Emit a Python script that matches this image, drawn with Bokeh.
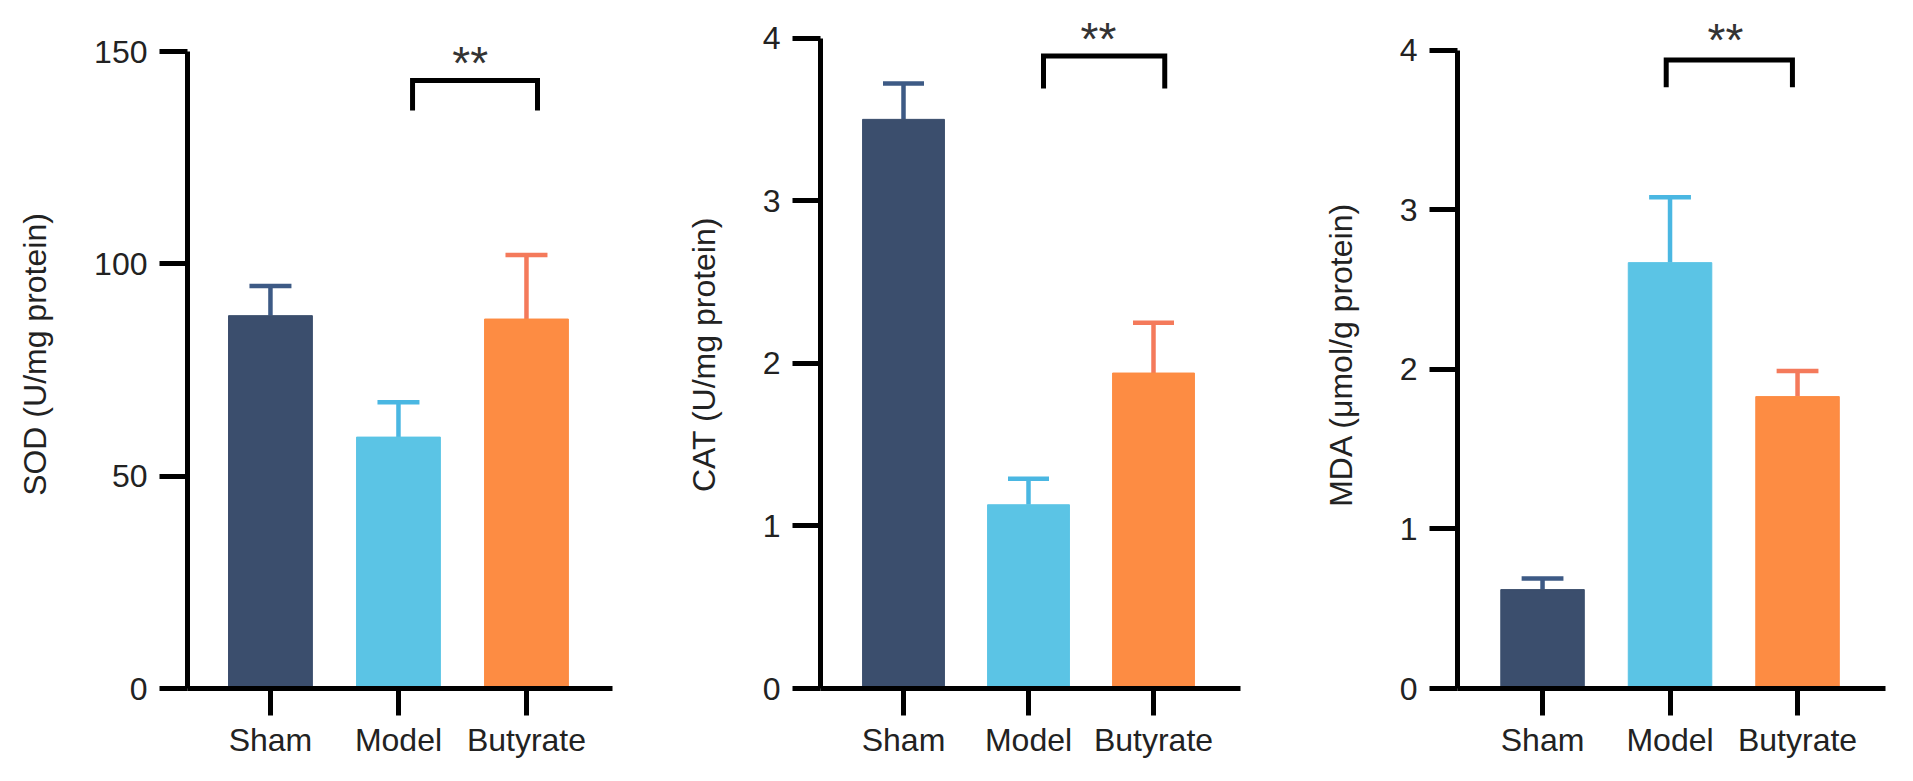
from bokeh.plotting import figure
from bokeh.models import ColumnDataSource, LinearAxis, FixedTicker, Range1d, Label
from bokeh.layouts import row
from bokeh.transform import dodge
from bokeh.embed import file_html
from bokeh.resources import INLINE

groups = ["Sham", "Model", "Butyrate"]
bar_colors = ["#3B4E6D", "#5BC4E5", "#FD8C43"]
err_colors = ["#3D5A85", "#4AB7E2", "#F47A5B"]

# mean and mean + error
sod_mean = [87.8, 59.2, 87.0]
sod_upper = [94.8, 67.4, 102.1]
cat_mean = [3.50, 1.13, 1.94]
cat_upper = [3.72, 1.29, 2.25]
mda_mean = [0.62, 2.67, 1.83]
mda_upper = [0.69, 3.08, 1.99]

sod_ticks = [0, 50, 100, 150]
cat_ticks = [0, 1, 2, 3, 4]
mda_ticks = [0, 1, 2, 3, 4]

# Model vs Butyrate bracket: top, leg end, star level
sod_sig = [143.2, 136.1, 147.4]
cat_sig = [3.89, 3.69, 3.995]
mda_sig = [3.94, 3.77, 4.065]

FONT = "Liberation Sans"
TEXT = "#222222"
H = 780


def make_panel(mean, upper, ticks, label, sig, y_end, xr, width, bl, br, bdx, sdx):
    x = list(range(len(groups)))
    src = ColumnDataSource(dict(x=x, top=mean, upper=upper,
                                color=bar_colors, ecolor=err_colors))
    p = figure(width=width, height=H, title=None, toolbar_location=None,
               output_backend="svg", x_range=Range1d(*xr), y_range=Range1d(0, y_end),
               x_axis_location=None, y_axis_location=None,
               min_border_left=bl, min_border_right=br,
               min_border_top=20, min_border_bottom=H - 688)
    p.outline_line_color = None
    p.grid.visible = False

    # error bars under the bars
    p.segment(x0="x", y0="top", x1="x", y1="upper", line_color="ecolor",
              line_width=4.5, source=src)
    p.segment(x0=dodge("x", -0.164), y0="upper", x1=dodge("x", 0.164), y1="upper",
              line_color="ecolor", line_width=4.5, source=src)
    p.vbar(x="x", top="top", width=0.655, fill_color="color", line_color="color",
           source=src)

    # significance bracket
    m = groups.index("Model")
    b = groups.index("Butyrate")
    p.line(x=[m + bdx[0], m + bdx[0], b + bdx[1], b + bdx[1]],
           y=[sig[1], sig[0], sig[0], sig[1]],
           line_color="black", line_width=5, line_join="miter")
    p.add_layout(Label(x=(m + b) / 2 + sdx, y=sig[2], text="**",
                       text_font=FONT, text_font_size="46px", text_color="#333333",
                       text_align="center", text_baseline="middle"))

    xaxis = LinearAxis(ticker=FixedTicker(ticks=x),
                       major_label_overrides={i: g for i, g in enumerate(groups)})
    xaxis.major_tick_out = 27
    xaxis.major_label_standoff = 6
    yaxis = LinearAxis(ticker=FixedTicker(ticks=ticks), bounds=(0, ticks[-1]),
                       axis_label=label)
    yaxis.major_tick_out = 28
    yaxis.major_label_standoff = 12
    yaxis.axis_label_standoff = 38
    yaxis.axis_label_text_font = FONT
    yaxis.axis_label_text_font_size = "32px"
    yaxis.axis_label_text_font_style = "normal"
    yaxis.axis_label_text_color = TEXT
    for ax in (xaxis, yaxis):
        ax.axis_line_width = 5
        ax.axis_line_color = "black"
        ax.major_tick_line_width = 5
        ax.major_tick_line_color = "black"
        ax.major_tick_in = 0
        ax.minor_tick_line_color = None
        ax.major_label_text_font = FONT
        ax.major_label_text_font_size = "32px"
        ax.major_label_text_color = TEXT
    p.add_layout(xaxis, "below")
    p.add_layout(yaxis, "left")
    return p


p1 = make_panel(sod_mean, sod_upper, sod_ticks, "SOD (U/mg protein)", sod_sig,
                157.3, (-0.648, 2.672), 648, 187, 36, (0.11, 0.086), 0.06)
p2 = make_panel(cat_mean, cat_upper, cat_ticks, "CAT (U/mg protein)", cat_sig,
                4.108, (-0.664, 2.696), 635, 172, 43, (0.12, 0.09), 0.06)
p3 = make_panel(mda_mean, mda_upper, mda_ticks, "MDA (\u03bcmol/g protein)", mda_sig,
                4.188, (-0.667, 2.69), 628, 174, 26, (-0.03, -0.04), -0.065)

layout = row(p1, p2, p3)
open("out.html", "w").write(file_html(layout, INLINE))
